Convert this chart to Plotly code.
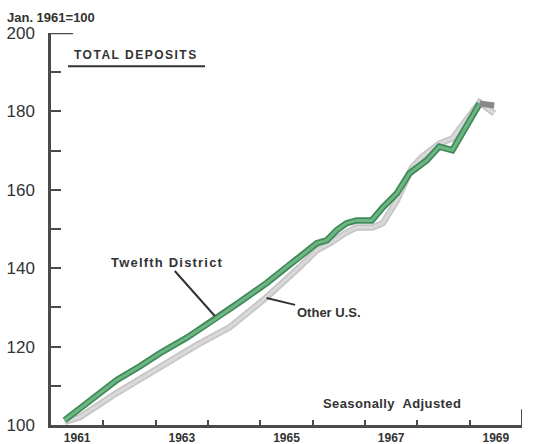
import plotly.graph_objects as go

# Index, Jan. 1961 = 100; x in decimal years
twelfth_x = [1961.26, 1961.6, 1962.0, 1962.26, 1962.7, 1963.08, 1963.6, 1964.17, 1964.6, 1965.12,
             1965.5, 1965.75, 1966.08, 1966.27, 1966.46, 1966.65, 1966.84, 1967.13, 1967.34,
             1967.61, 1967.85, 1968.18, 1968.42, 1968.67, 1969.19]
twelfth_y = [101.2, 104.8, 108.8, 111.5, 115.0, 118.3, 122.3, 127.3, 131.3, 136.2,
             140.3, 142.8, 146.4, 147.1, 149.7, 151.5, 152.2, 152.2, 155.5,
             159.1, 164.2, 167.5, 171.0, 170.1, 182.0]
twelfth_latest_x = [1969.19, 1969.47]
twelfth_latest_y = [182.0, 181.5]

other_x = [1961.26, 1961.55, 1962.26, 1963.08, 1963.8, 1964.42, 1965.12, 1965.75, 1966.08,
           1966.33, 1966.6, 1966.84, 1967.15, 1967.34, 1967.61, 1967.9, 1968.1, 1968.42,
           1968.67, 1969.19, 1969.47]
other_y = [100.8, 102.0, 108.2, 114.8, 120.5, 125.0, 132.6, 140.3, 144.6,
           146.4, 148.8, 150.4, 150.4, 151.5, 157.3, 165.7, 168.5, 171.8,
           173.1, 182.3, 179.5]

year_labels = ["1961", "1963", "1965", "1967", "1969"]
year_label_pos = [1961.5, 1963.5, 1965.5, 1967.5, 1969.5]
year_ticks = [1962, 1963, 1964, 1965, 1966, 1967, 1968, 1969]
y_labels = [100, 120, 140, 160, 180, 200]

AX = "#4a4a4a"
FONT = "Liberation Sans"
TXT = "#333"

fig = go.Figure()
fig.add_trace(go.Scatter(x=other_x, y=other_y, mode="lines",
                         line=dict(color="#c6c6c6", width=6.5), hoverinfo="skip", showlegend=False))
fig.add_trace(go.Scatter(x=other_x, y=other_y, mode="lines",
                         line=dict(color="#d9d9d9", width=3), name="Other U.S.", showlegend=False))
fig.add_trace(go.Scatter(x=twelfth_x, y=twelfth_y, mode="lines",
                         line=dict(color="#3f8a57", width=6.5), hoverinfo="skip", showlegend=False))
fig.add_trace(go.Scatter(x=twelfth_x, y=twelfth_y, mode="lines",
                         line=dict(color="#6db585", width=3), name="Twelfth District", showlegend=False))
fig.add_trace(go.Scatter(x=twelfth_latest_x, y=twelfth_latest_y, mode="lines",
                         line=dict(color="#888888", width=6), name="Twelfth District", showlegend=False))

fig.update_xaxes(range=[1961, 1970], showgrid=False, zeroline=False, automargin=False,
                 showline=True, linecolor=AX, linewidth=2.5,
                 tickvals=year_label_pos, ticktext=["<b>%s</b>" % t for t in year_labels], ticks="",
                 tickfont=dict(family=FONT, size=12, color=TXT),
                 ticklabelstandoff=0,
                 minor=dict(tickvals=year_ticks, ticks="inside", ticklen=5, tickwidth=2, tickcolor=AX))
fig.update_yaxes(range=[100, 200], showgrid=False, zeroline=False, automargin=False,
                 showline=True, linecolor=AX, linewidth=2.5,
                 tickvals=y_labels, ticktext=[str(v) for v in y_labels],
                 ticks="inside", ticklen=10, tickwidth=2, tickcolor=AX,
                 tickfont=dict(family=FONT, size=17, color=TXT),
                 ticklabelstandoff=10,
                 minor=dict(dtick=10, tick0=100, ticks="inside", ticklen=10, tickwidth=2, tickcolor=AX))

# axis decorations
fig.add_shape(type="line", xref="paper", yref="y", x0=0, x1=0.047, y0=200, y1=200,
              line=dict(color=AX, width=2.5))
fig.add_shape(type="line", xref="x", yref="y", x0=1970, x1=1970, y0=100, y1=104,
              line=dict(color=AX, width=2))
fig.add_shape(type="line", xref="paper", yref="paper", x0=0.036, x1=0.327, y0=0.915, y1=0.915,
              line=dict(color=TXT, width=2))

bold = dict(family=FONT, size=13, color=TXT)
fig.add_annotation(xref="paper", yref="paper", x=-0.098, y=1.039, xanchor="left", yanchor="middle",
                   text="<b>Jan. 1961=100</b>", showarrow=False, font=bold)
fig.add_annotation(xref="paper", yref="paper", x=0.18, y=0.945, xanchor="center", yanchor="middle",
                   text="<b><span style='letter-spacing:1.5px'>TOTAL DEPOSITS</span></b>",
                   showarrow=False, font=dict(family=FONT, size=12, color=TXT))
fig.add_annotation(xref="paper", yref="paper", x=0.724, y=0.056, xanchor="center", yanchor="middle",
                   text="<b><span style='letter-spacing:0.4px'>Seasonally  Adjusted</span></b>",
                   showarrow=False, font=bold)
fig.add_annotation(x=1964.13, y=127.8,
                   text="<b><span style='letter-spacing:1.2px'>Twelfth District</span></b>",
                   showarrow=True, arrowhead=0, arrowwidth=2, arrowcolor=TXT, ax=-48, ay=-54, font=bold)
fig.add_annotation(x=1965.12, y=132.4, text="<b>Other U.S.</b>", showarrow=True,
                   arrowhead=0, arrowwidth=2, arrowcolor=TXT, ax=62, ay=15, font=bold)

fig.update_layout(width=535, height=444, margin=dict(l=51, r=13, t=33, b=19),
                  paper_bgcolor="white", plot_bgcolor="white", showlegend=False)
# remove the browser's default 8px body margin so the figure fills the window exactly
fig.write_html("out.html", config={"displayModeBar": False},
               post_script="document.body.style.margin='0';document.body.style.overflow='hidden';")
